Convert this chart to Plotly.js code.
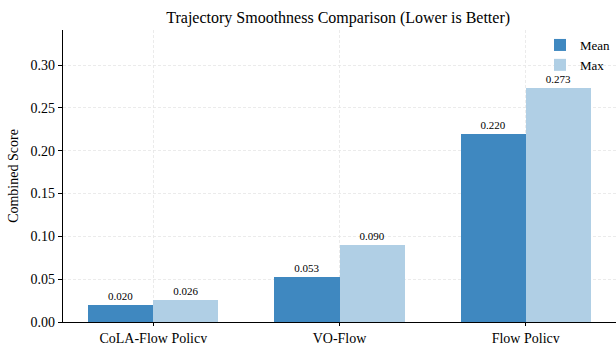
<!DOCTYPE html>
<html>
<head>
<meta charset="utf-8">
<script src="https://cdn.plot.ly/plotly-3.0.1.min.js"></script>
<style>html,body{margin:0;padding:0;background:#fff;}#chart{width:616px;height:343px;}</style>
</head>
<body>
<div id="chart"></div>
<script>
const categories = ["CoLA-Flow Policy", "VQ-Flow", "Flow Policy"];
const meanValues = [0.020, 0.053, 0.220];
const maxValues = [0.026, 0.090, 0.273];
const yTicks = [0.00, 0.05, 0.10, 0.15, 0.20, 0.25, 0.30];

const font = "'Liberation Serif', 'Times New Roman', serif";
const xIdx = categories.map((c, i) => i);

const traces = [
  {
    type: "bar", name: "Mean", x: xIdx.map(i => i - 0.175), y: meanValues,
    width: 0.35, marker: {color: "#3f88c0"},
    text: meanValues.map(v => v.toFixed(3)), textposition: "outside",
    textfont: {family: font, size: 11, color: "#000"}, cliponaxis: false,
    hoverinfo: "none"
  },
  {
    type: "bar", name: "Max", x: xIdx.map(i => i + 0.175), y: maxValues,
    width: 0.35, marker: {color: "#b0cfe5"},
    text: maxValues.map(v => v.toFixed(3)), textposition: "outside",
    textfont: {family: font, size: 11, color: "#000"}, cliponaxis: false,
    hoverinfo: "none"
  }
];

const layout = {
  width: 616, height: 343,
  margin: {l: 63, r: 0, t: 30, b: 21},
  paper_bgcolor: "#fff", plot_bgcolor: "#fff",
  font: {family: font, size: 14, color: "#000"},
  title: {text: "Trajectory Smoothness Comparison (Lower is Better)", font: {family: font, size: 16, color: "#000"}, xref: "container", x: 0.549, xanchor: "center", y: 0.95, yanchor: "middle"},
  barmode: "overlay",
  showlegend: true,
  legend: {x: 1.0, xanchor: "right", y: 1.0, yanchor: "top", bgcolor: "rgba(0,0,0,0)", font: {family: font, size: 13}, itemwidth: 30, tracegroupgap: 0},
  xaxis: {
    range: [-0.485, 2.485], tickvals: xIdx, ticktext: categories,
    showline: true, linecolor: "#000", linewidth: 1.2, ticks: "outside", ticklen: 3, tickcolor: "#000",
    showgrid: true, gridcolor: "#e6e6e6", griddash: "3px,2px", gridwidth: 0.8,
    zeroline: false, tickfont: {family: font, size: 14}
  },
  yaxis: {
    range: [0, 0.341], tickvals: yTicks, ticktext: yTicks.map(v => v.toFixed(2)),
    showline: true, linecolor: "#000", linewidth: 1.2, ticks: "outside", ticklen: 4, tickcolor: "#000",
    showgrid: true, gridcolor: "#e6e6e6", griddash: "3px,2px", gridwidth: 0.8,
    zeroline: false, tickfont: {family: font, size: 14},
    title: {text: "Combined Score", font: {family: font, size: 14}, standoff: 8}
  },
  bargap: 0
};

Plotly.newPlot("chart", traces, layout, {displayModeBar: false, staticPlot: true});
</script>
</body>
</html>
